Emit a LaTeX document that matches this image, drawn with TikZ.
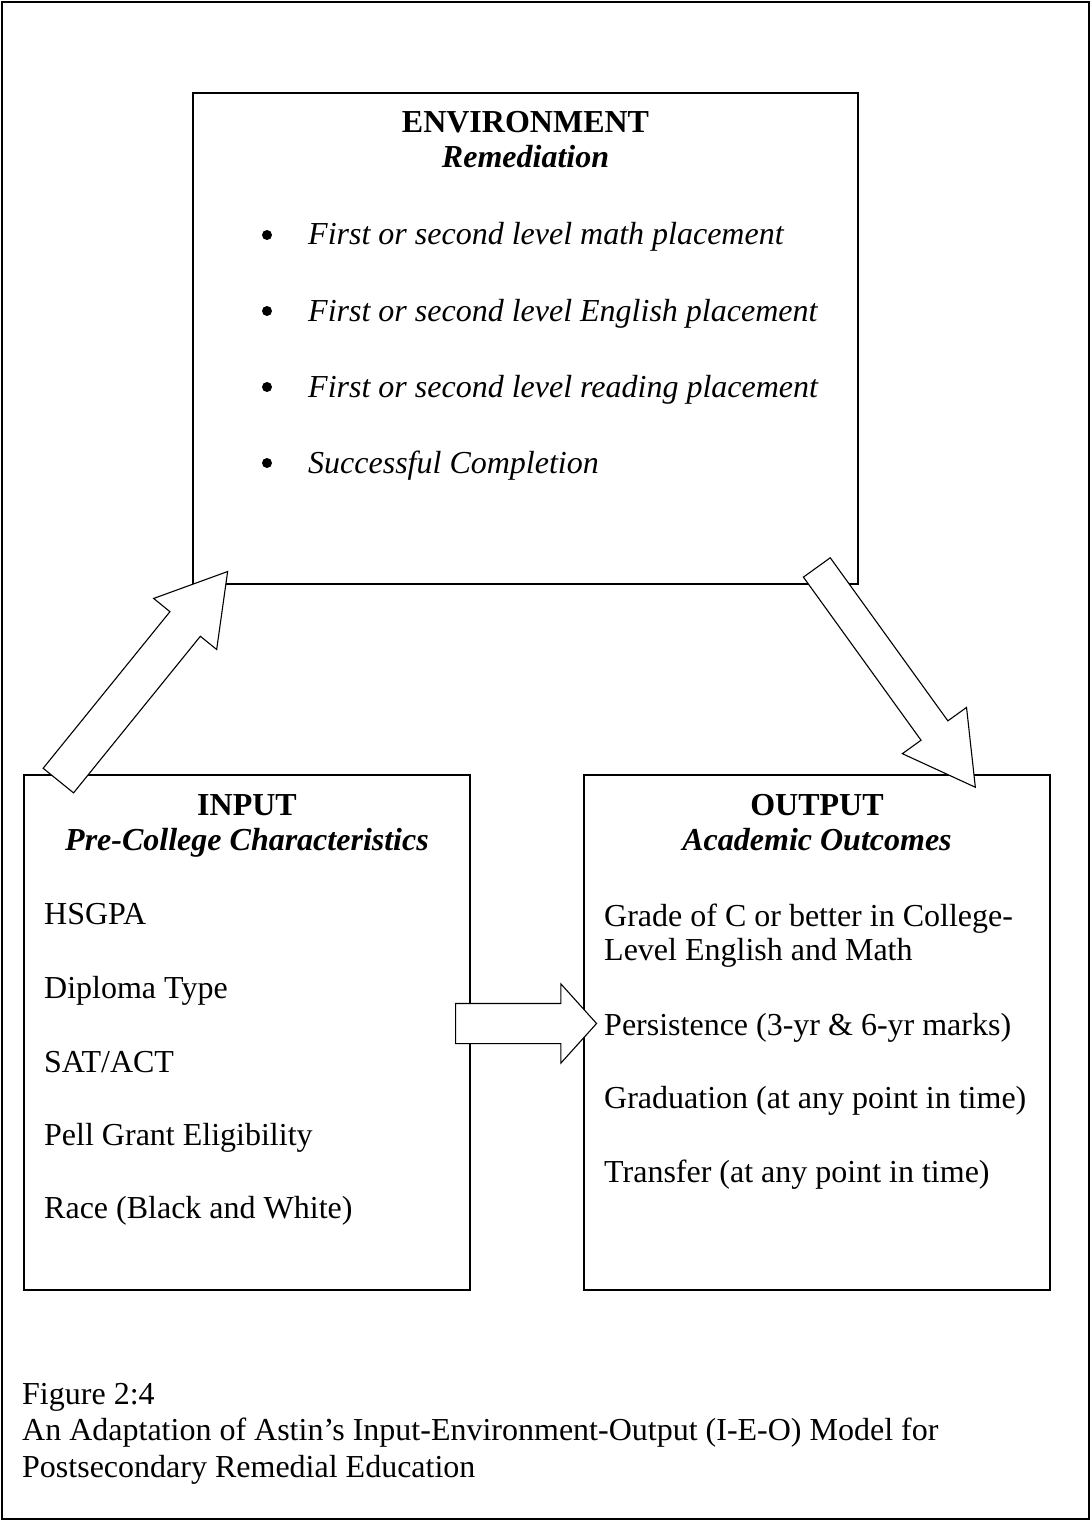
\documentclass[tikz,border=0pt]{standalone}
\usepackage{fontspec}
\setmainfont{Liberation Serif}
\usetikzlibrary{shapes.arrows}

\tikzset{
  box/.style={draw, line width=1.6pt, inner sep=0pt},
  blockarrow/.style={draw, single arrow, line width=1.1pt, fill=white, anchor=tail},
  txt/.style={anchor=base west, inner sep=0pt, font=\fontsize{32}{38}\selectfont},
  head/.style={anchor=base, inner sep=0pt, font=\fontsize{32}{38}\selectfont},
  dot/.style={circle, fill, inner sep=0pt, minimum size=10pt},
}

\begin{document}
\begin{tikzpicture}[x=1pt,y=-1pt]

% Cadre
\useasboundingbox (0,0) rectangle (1091,1522);
\node[box, line width=2.2pt, minimum width=1087pt, minimum height=1517pt] (frame) at (545.5,760.5) {};

% Environment
\node[box, minimum width=665pt, minimum height=491pt] (env) at (525.5,338.5) {};
\node[head] (envT) at (525.5,133) {\textbf{ENVIRONMENT}};
\node[head] (envS) at (525.5,168) {\textbf{\textit{Remediation}}};
\node[dot] (b1) at (267,235) {};
\node[txt] (e1) at (308,245) {\textit{First or second level math placement}};
\node[dot] (b2) at (267,311) {};
\node[txt] (e2) at (308,321) {\textit{First or second level English placement}};
\node[dot] (b3) at (267,387) {};
\node[txt] (e3) at (308,397) {\textit{First or second level reading placement}};
\node[dot] (b4) at (267,463) {};
\node[txt] (e4) at (308,473) {\textit{Successful Completion}};

% Input
\node[box, minimum width=446pt, minimum height=515pt] (inp) at (247,1032.5) {};
\node[head] (inpT) at (247,815) {\textbf{INPUT}};
\node[head] (inpS) at (247,850) {\textbf{\textit{Pre-College Characteristics}}};
\node[txt] (i1) at (44,924) {HSGPA};
\node[txt] (i2) at (44,998) {Diploma Type};
\node[txt] (i3) at (44,1072) {SAT/ACT};
\node[txt] (i4) at (44,1145) {Pell Grant Eligibility};
\node[txt] (i5) at (44,1218) {Race (Black and White)};

% Output
\node[box, minimum width=466pt, minimum height=515pt] (out) at (817,1032.5) {};
\node[head] (outT) at (817,815) {\textbf{OUTPUT}};
\node[head] (outS) at (817,850) {\textbf{\textit{Academic Outcomes}}};
\node[txt] (o1) at (604,926) {Grade of C or better in College-};
\node[txt] (o1b) at (604,960) {Level English and Math};
\node[txt] (o2) at (604,1035) {Persistence (3-yr \& 6-yr marks)};
\node[txt] (o3) at (604,1108) {Graduation (at any point in time)};
\node[txt] (o4) at (604,1182) {Transfer (at any point in time)};

% Fleches
\node[blockarrow, minimum height=269pt, inner sep=19pt, single arrow head extend=21pt,
  single arrow tip angle=62, rotate=51] (a1) at (58,781) {};
\node[blockarrow, minimum height=271pt, inner sep=16pt, single arrow head extend=23pt,
  single arrow tip angle=59, rotate=-54.2] (a2) at (816.5,567) {};
\node[blockarrow, minimum height=141pt, inner sep=19.5pt, single arrow head extend=19.5pt,
  single arrow tip angle=96] (a3) at (455,1023.5) {};

% Legende
\node[txt] (cap1) at (22,1404) {Figure 2:4};
\node[txt] (cap2) at (22,1440) {An Adaptation of Astin’s Input-Environment-Output (I-E-O) Model for};
\node[txt] (cap3) at (22,1477) {Postsecondary Remedial Education};

\end{tikzpicture}
\end{document}
